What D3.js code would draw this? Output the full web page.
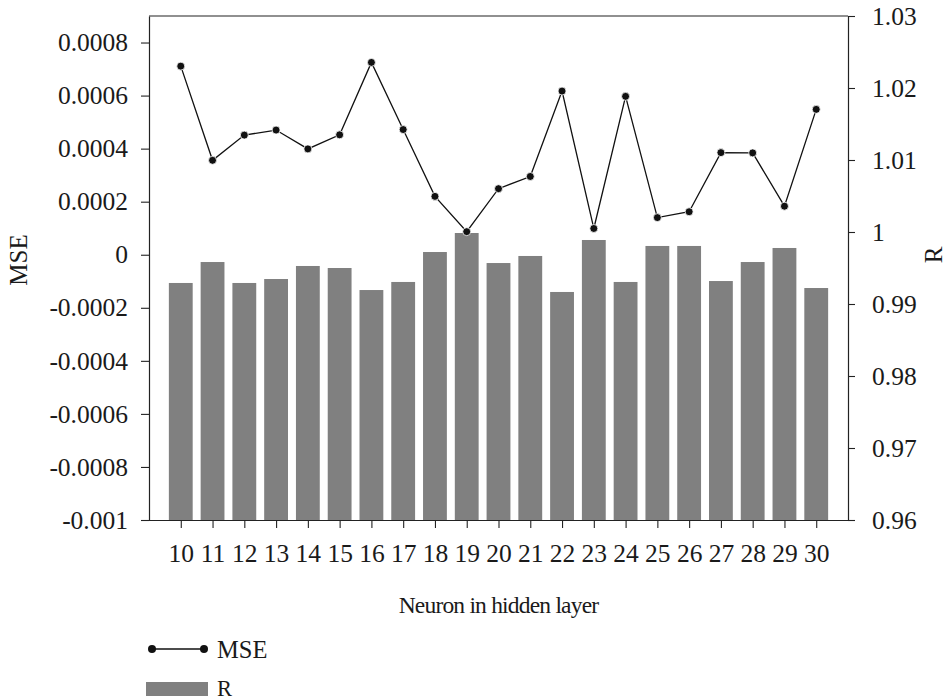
<!DOCTYPE html>
<html>
<head>
<meta charset="utf-8">
<script src="https://cdn.jsdelivr.net/npm/d3@7"></script>
<style>
  html, body { margin: 0; padding: 0; background: #fff; }
  svg text { font-family: "Liberation Serif", "DejaVu Serif", serif; fill: #1a1a1a; }
</style>
</head>
<body>
<svg id="chart" width="947" height="699"></svg>
<script>
// Number of neurons in the hidden layer
const neurons = [10, 11, 12, 13, 14, 15, 16, 17, 18, 19, 20, 21, 22, 23, 24, 25, 26, 27, 28, 29, 30];
// Mean squared error for each network size (left axis)
const mseValues = [0.000711, 0.000356, 0.000451, 0.00047, 0.000399, 0.000452, 0.000725, 0.000472,
  0.00022, 0.000087, 0.000249, 0.000295, 0.000617, 0.000099, 0.000597, 0.00014, 0.000162,
  0.000385, 0.000384, 0.000183, 0.000548];
// Correlation coefficient for each network size (right axis)
const rValues = [0.99292, 0.99583, 0.99292, 0.99347, 0.99528, 0.995, 0.99194, 0.99306, 0.99722,
  0.99986, 0.99569, 0.99667, 0.99167, 0.99889, 0.99306, 0.99806, 0.99806, 0.99319, 0.99583,
  0.99778, 0.99222];
// Tick values for both vertical axes
const mseTicks = [-0.001, -0.0008, -0.0006, -0.0004, -0.0002, 0, 0.0002, 0.0004, 0.0006, 0.0008];
const rTicks = [0.96, 0.97, 0.98, 0.99, 1, 1.01, 1.02, 1.03];

const svg = d3.select("#chart");
const plotLeft = 149, plotRight = 848, plotTop = 16, plotBottom = 520;
const tickFs = 25.5;

const x = d3.scalePoint().domain(neurons).range([plotLeft, plotRight]).padding(1);
const yL = d3.scaleLinear().domain([-0.001, 0.0009]).range([plotBottom, plotTop]);
const yR = d3.scaleLinear().domain([0.96, 1.03]).range([plotBottom, plotTop]);
const barW = x.step() * 0.75;

// R bars from the bottom of the right axis
svg.append("g").selectAll("rect")
  .data(neurons)
  .join("rect")
  .attr("x", (d) => x(d) - barW / 2)
  .attr("width", barW)
  .attr("y", (d, i) => yR(rValues[i]))
  .attr("height", (d, i) => plotBottom - yR(rValues[i]))
  .attr("fill", "#808080");

// Frame top line
svg.append("line")
  .attr("x1", plotLeft).attr("x2", plotRight).attr("y1", plotTop).attr("y2", plotTop)
  .attr("stroke", "#222").attr("stroke-width", 1.2);

function styleAxis(g) {
  g.select(".domain").attr("stroke", "#222").attr("stroke-width", 1.2);
  g.selectAll(".tick line").attr("stroke", "#222").attr("stroke-width", 1.1);
  g.selectAll("text").attr("font-size", tickFs).attr("fill", "#1a1a1a");
}

const fmtMSE = (d) => (Math.abs(d) < 1e-12 ? "0" : String(+d.toFixed(4)));
const fmtR = (d) => String(+d.toFixed(2));

svg.append("g")
  .attr("transform", `translate(${plotLeft},0)`)
  .call(d3.axisLeft(yL).tickValues(mseTicks).tickFormat(fmtMSE).tickSize(8).tickPadding(13).tickSizeOuter(0))
  .call(styleAxis);

svg.append("g")
  .attr("transform", `translate(${plotRight},0)`)
  .call(d3.axisRight(yR).tickValues(rTicks).tickFormat(fmtR).tickSize(7).tickPadding(17).tickSizeOuter(0))
  .call(styleAxis);

svg.append("g")
  .attr("transform", `translate(0,${plotBottom})`)
  .call(d3.axisBottom(x).tickSize(8).tickPadding(16).tickSizeOuter(0))
  .call((g) => g.select(".domain").attr("d", `M${plotLeft},0.5H${plotRight}`))
  .call(styleAxis);

// MSE line with markers
const line = d3.line().x((d) => x(d)).y((d, i) => yL(mseValues[i]));
svg.append("path")
  .datum(neurons)
  .attr("d", line)
  .attr("fill", "none")
  .attr("stroke", "#111")
  .attr("stroke-width", 1.3);

svg.append("g").selectAll("circle")
  .data(neurons)
  .join("circle")
  .attr("cx", (d) => x(d))
  .attr("cy", (d, i) => yL(mseValues[i]))
  .attr("r", 4)
  .attr("fill", "#111")
  .attr("stroke", "#fff")
  .attr("stroke-width", 0.8);

// Axis titles
svg.append("text")
  .attr("transform", "translate(27,260) rotate(-90)")
  .attr("text-anchor", "middle")
  .attr("font-size", 25)
  .text("MSE");

svg.append("text")
  .attr("transform", "translate(942,255) rotate(-90)")
  .attr("text-anchor", "middle")
  .attr("font-size", 25)
  .text("R");

svg.append("text")
  .attr("x", (plotLeft + plotRight) / 2)
  .attr("y", 613)
  .attr("text-anchor", "middle")
  .attr("font-size", 23.5)
  .attr("letter-spacing", -0.8)
  .text("Neuron in hidden layer");

// Legend
const lg = svg.append("g");
lg.append("line").attr("x1", 152).attr("x2", 204).attr("y1", 649).attr("y2", 649)
  .attr("stroke", "#111").attr("stroke-width", 1.3);
[152, 204].forEach((cx) => lg.append("circle").attr("cx", cx).attr("cy", 649).attr("r", 4).attr("fill", "#111"));
lg.append("text").attr("x", 217).attr("y", 658).attr("font-size", 24.5).text("MSE");
lg.append("rect").attr("x", 146).attr("y", 682).attr("width", 62).attr("height", 14).attr("fill", "#808080");
lg.append("text").attr("x", 217).attr("y", 695.5).attr("font-size", 22.5).text("R");
</script>
</body>
</html>
